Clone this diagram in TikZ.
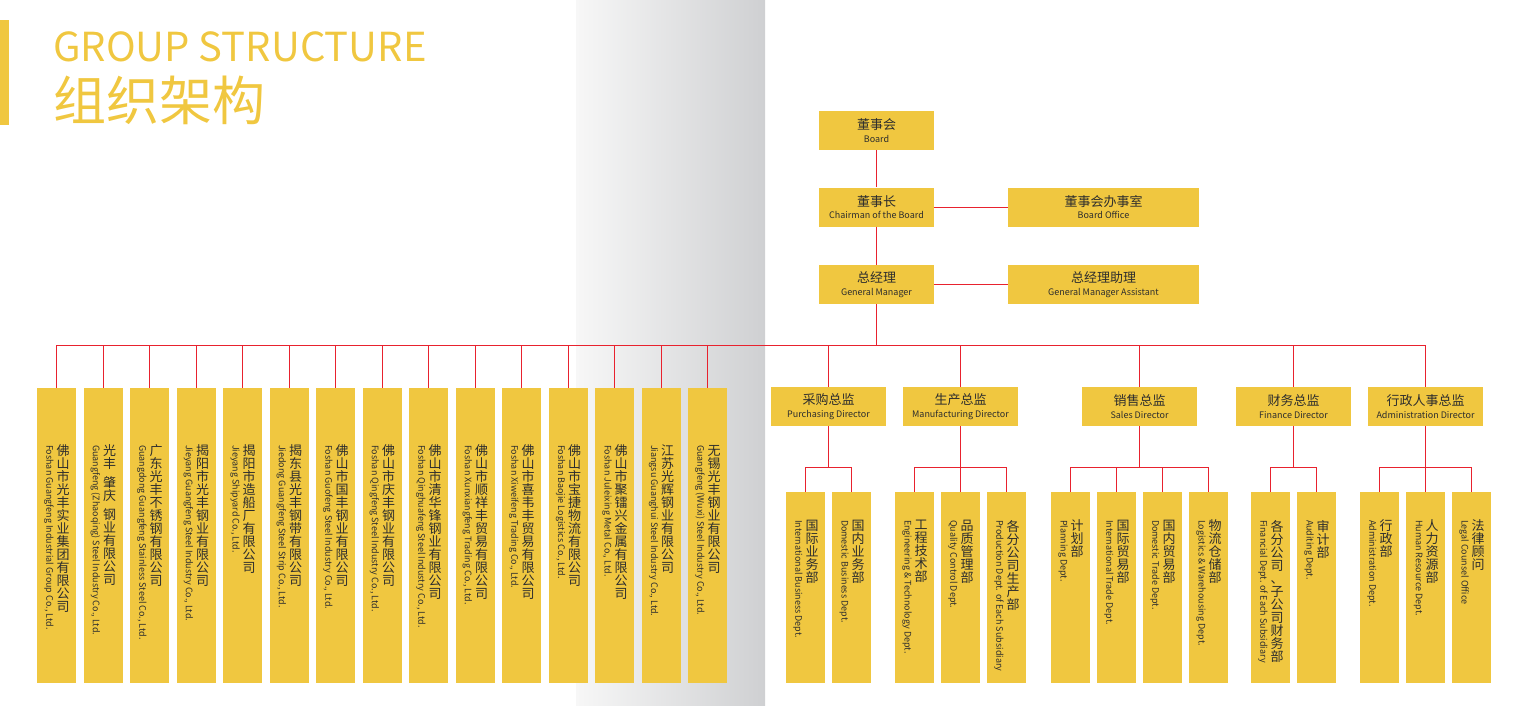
\documentclass[tikz,border=0pt]{standalone}
\usepackage{fontspec}
\setmainfont{Noto Sans CJK SC}
\usepackage{tikz}
\usetikzlibrary{positioning}
\definecolor{gelb}{RGB}{240,199,64}
\definecolor{linienrot}{RGB}{232,34,46}
\definecolor{schrift}{RGB}{45,45,45}
\definecolor{grauhell}{RGB}{247,247,247}
\definecolor{graudunkel}{RGB}{207,208,210}

%Chinesisch senkrecht: jedes Zeichen aufrecht untereinander, | gibt eine kleine Luecke
\ExplSyntaxOn
\cs_new_protected:Npn \gs_hochkant:n #1
  {
    \vbox{ \baselineskip=13pt \lineskiplimit=-100pt \lineskip=0pt
      \tl_map_inline:nn {#1}
        { \str_if_eq:nnTF {##1} {|} { \kern 6pt } { \hbox to 13pt { \hss ##1 \hss } } }
    }
  }
\cs_generate_variant:Nn \gs_hochkant:n {x}
\NewDocumentCommand \hochkant {m} { \gs_hochkant:x {#1} }
\ExplSyntaxOff

\newcommand{\zweizeilig}[2]{{\fontsize{13}{12.5}\selectfont #1}\\{#2}}

\begin{document}
\begin{tikzpicture}[x=1pt,y=-1pt,
  kasten/.style={fill=gelb,inner sep=0pt,text=schrift},
  chef/.style={kasten,minimum width=115pt,minimum height=39pt,align=center,font=\fontsize{9}{12.5}\selectfont},
  firma/.style={kasten,minimum width=39pt,minimum height=295pt},
  abteilung/.style={kasten,minimum width=39pt,minimum height=191pt},
  cnschrift/.style={inner sep=0pt,anchor=north,text=schrift,font=\fontsize{13}{13}\selectfont},
  enschrift/.style={inner sep=0pt,anchor=west,rotate=-90,text=schrift,font=\fontsize{9}{10}\selectfont},
  linie/.style={draw=linienrot,line width=0.9pt}]
\useasboundingbox (0,0) rectangle (1515,706);
%Hintergrund: grauer Streifen (Buchfalz)
\shade[left color=grauhell,right color=graudunkel] (576,0) rectangle (765,706);
%Titel
\fill[gelb] (0,20) rectangle (9,125);
\node[inner sep=0pt,anchor=base west,text=gelb,font=\fontsize{40}{40}\selectfont] (titelen) at (53,62) {GROUP STRUCTURE};
\node[inner sep=0pt,anchor=base west,text=gelb,font=\fontsize{53}{53}\selectfont] (titelcn) at (53,121) {组织架构};
%Spitze
\node[chef] (board) at (876.5,130.5) {\zweizeilig{董事会}{Board}};
\node[chef] (chair) at (876.5,207) {\zweizeilig{董事长}{Chairman of the Board}};
\node[chef] (gm) at (876.5,284.5) {\zweizeilig{总经理}{General Manager}};
\node[chef,minimum width=191pt] (office) at (1103.5,207) {\zweizeilig{董事会办事室}{Board Office}};
\node[chef,minimum width=191pt] (assist) at (1103.5,284.5) {\zweizeilig{总经理助理}{General Manager Assistant}};
\draw[linie] (board) -- (chair);
\draw[linie] (chair) -- (gm);
\draw[linie] (chair) -- (office);
\draw[linie] (gm) -- (assist);
\coordinate (bus) at (876.5,345.7);
\draw[linie] (gm) -- (bus);
%Tochterfirmen, Abstand 46.5
\foreach \cn/\en [count=\i] in {
  佛山市光丰实业集团有限公司/{Foshan Guangfeng Industrial Group Co., Ltd.},
  光丰|肇庆|钢业有限公司/{Guangfeng (Zhaoqing) Steel Industry Co., Ltd.},
  广东光丰不锈钢有限公司/{Guangdong Guangfeng Stainless Steel Co., Ltd.},
  揭阳市光丰钢业有限公司/{Jieyang Guangfeng Steel Industry Co., Ltd.},
  揭阳市造船厂有限公司/{Jieyang Shipyard Co., Ltd.},
  揭东县光丰钢带有限公司/{Jiedong Guangfeng Steel Strip Co., Ltd.},
  佛山市国丰钢业有限公司/{Foshan Guofeng Steel Industry Co., Ltd.},
  佛山市庆丰钢业有限公司/{Foshan Qingfeng Steel Industry Co., Ltd.},
  佛山市清华锋钢业有限公司/{Foshan Qinghuafeng Steel Industry Co., Ltd.},
  佛山市顺祥丰贸易有限公司/{Foshan Xunxiangfeng Trading Co., Ltd.},
  佛山市喜韦丰贸易有限公司/{Foshan Xiweifeng Trading Co., Ltd.},
  佛山市宝捷物流有限公司/{Foshan Baojie Logistics Co., Ltd.},
  佛山市聚镭兴金属有限公司/{Foshan Juleixing Metal Co., Ltd.},
  江苏光辉钢业有限公司/{Jiangsu Guanghui Steel Industry Co., Ltd.},
  无锡光丰钢业有限公司/{Guangfeng (Wuxi) Steel Industry Co., Ltd.}}{
  \pgfmathsetmacro{\xc}{56.5+46.5*(\i-1)}
  \node[firma] (co\i) at (\xc,535.5) {};
  \node[cnschrift] (cn\i) at ([xshift=6.5pt,yshift=-57pt]co\i.north) {\hochkant{\cn}};
  \node[enschrift] (en\i) at ([xshift=-7.5pt,yshift=-57pt]co\i.north) {\en};
  \draw[linie] (co\i.north) |- (bus);
}
%Direktoren
\foreach \name/\cn/\en/\xc in {pur/采购总监/Purchasing Director/828.5,
  man/生产总监/Manufacturing Director/960.5, sal/销售总监/Sales Director/1139.5,
  fin/财务总监/Finance Director/1293.5, adm/行政人事总监/Administration Director/1425.5}{
  \node[chef] (\name) at (\xc,406.5) {\zweizeilig{\cn}{\en}};
  \draw[linie] (\name.north) |- (bus);
  \coordinate (bus\name) at (\xc,467);
  \draw[linie] (\name) -- (bus\name);
}
%Abteilungen
\foreach \nr/\chef/\xc/\cn/\en in {
  1/pur/805.5/国际业务部/International Business Dept.,
  2/pur/851.5/国内业务部/Domestic Business Dept.,
  3/man/914.5/工程技术部/Engineering \& Technology Dept.,
  4/man/960.5/品质管理部/Quality Control Dept.,
  5/man/1006.5/各分公司生产部/Production Dept. of Each Subsidiary,
  6/sal/1070.5/计划部/Planning Dept.,
  7/sal/1116.5/国际贸易部/International Trade Dept.,
  8/sal/1162.5/国内贸易部/Domestic Trade Dept.,
  9/sal/1208.5/物流仓储部/Logistics \& Warehousing Dept.,
  10/fin/1270.5/各分公司、子公司财务部/Financial Dept. of Each Subsidiary,
  11/fin/1316.5/审计部/Auditing Dept.,
  12/adm/1379.5/行政部/Administration Dept.,
  13/adm/1425.5/人力资源部/Human Resource Dept.,
  14/adm/1471.5/法律顾问/Legal Counsel Office}{
  \node[abteilung] (abt\nr) at (\xc,587.5) {};
  \node[cnschrift] (abtcn\nr) at ([xshift=6.5pt,yshift=-28pt]abt\nr.north) {\hochkant{\cn}};
  \node[enschrift] (abten\nr) at ([xshift=-7.5pt,yshift=-28pt]abt\nr.north) {\en};
  \draw[linie] (abt\nr.north) |- (bus\chef);
}
\end{tikzpicture}
\end{document}
